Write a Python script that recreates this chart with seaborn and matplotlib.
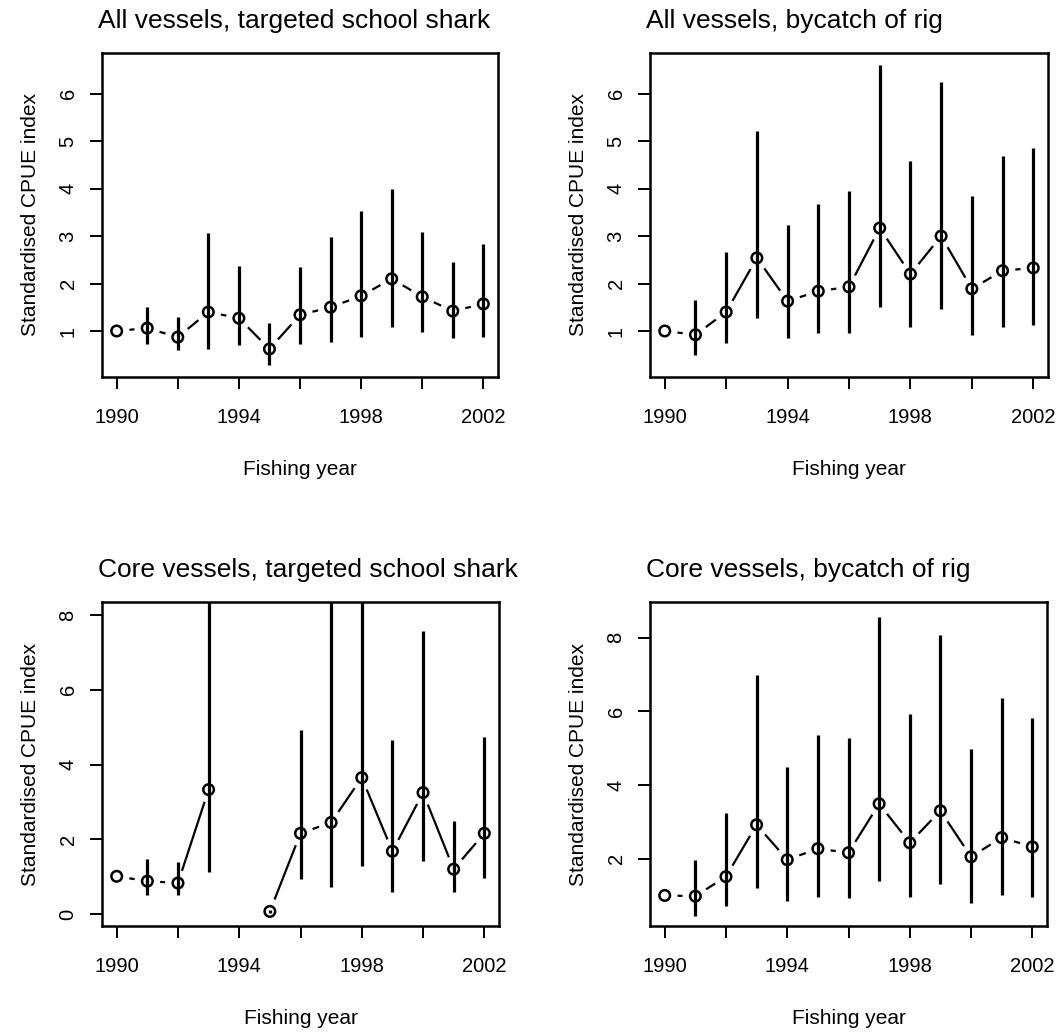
import numpy as np
import pandas as pd
import matplotlib
matplotlib.use("Agg")
import matplotlib.pyplot as plt
import seaborn as sns

nan = np.nan
years = list(range(1990, 2003))

titles = ["All vessels, targeted school shark", "All vessels, bycatch of rig",
          "Core vessels, targeted school shark", "Core vessels, bycatch of rig"]

# Panel 1: all vessels, targeted school shark
p1_idx = [1.00, 1.06, 0.87, 1.40, 1.27, 0.62, 1.34, 1.50, 1.74, 2.10, 1.72, 1.42, 1.57]
p1_lo = [nan, 0.73, 0.60, 0.62, 0.70, 0.28, 0.73, 0.77, 0.87, 1.08, 0.98, 0.85, 0.87]
p1_hi = [nan, 1.50, 1.30, 3.06, 2.37, 1.17, 2.35, 2.98, 3.53, 4.00, 3.09, 2.45, 2.83]

# Panel 2: all vessels, bycatch of rig
p2_idx = [1.00, 0.92, 1.40, 2.54, 1.63, 1.84, 1.93, 3.17, 2.20, 3.00, 1.89, 2.27, 2.33]
p2_lo = [nan, 0.50, 0.75, 1.27, 0.85, 0.96, 0.96, 1.50, 1.08, 1.46, 0.92, 1.08, 1.13]
p2_hi = [nan, 1.65, 2.67, 5.22, 3.24, 3.68, 3.95, 6.61, 4.59, 6.25, 3.85, 4.69, 4.86]

# Panel 3: core vessels, targeted school shark (1994 missing)
p3_idx = [1.01, 0.88, 0.83, 3.33, nan, 0.07, 2.16, 2.45, 3.65, 1.68, 3.25, 1.20, 2.16]
p3_lo = [nan, 0.50, 0.50, 1.12, nan, 0.03, 0.93, 0.72, 1.28, 0.60, 1.41, 0.58, 0.96]
p3_hi = [nan, 1.47, 1.39, 12.0, nan, 0.12, 4.93, 12.0, 12.0, 4.67, 7.57, 2.48, 4.75]

# Panel 4: core vessels, bycatch of rig
p4_idx = [1.00, 0.98, 1.51, 2.92, 1.97, 2.27, 2.16, 3.49, 2.43, 3.30, 2.05, 2.57, 2.32]
p4_lo = [nan, 0.45, 0.70, 1.20, 0.85, 0.95, 0.92, 1.40, 0.95, 1.32, 0.80, 1.00, 0.95]
p4_hi = [nan, 1.95, 3.24, 7.00, 4.50, 5.35, 5.27, 8.57, 5.92, 8.08, 4.97, 6.35, 5.81]

y_ticks = [[1, 2, 3, 4, 5, 6], [1, 2, 3, 4, 5, 6], [0, 2, 4, 6, 8], [2, 4, 6, 8]]
y_lims = [(0.03, 6.86), (0.03, 6.86), (-0.32, 8.35), (0.17, 8.97)]
x_ticks = [1990, 1992, 1994, 1996, 1998, 2000, 2002]
x_ticklabels = ["1990", "", "1994", "", "1998", "", "2002"]
xlab = "Fishing year"
ylab = "Standardised CPUE index"

sns.set_style("white")
plt.rcParams['font.family'] = ['Liberation Sans', 'DejaVu Sans']

W, H = 1063, 1032
fig = plt.figure(figsize=(W / 100, H / 100), dpi=100)

boxes = [(102, 53, 498, 377), (650, 53, 1048, 377),
         (102, 602, 499, 926), (650, 602, 1047, 926)]

panels = [(p1_idx, p1_lo, p1_hi), (p2_idx, p2_lo, p2_hi),
          (p3_idx, p3_lo, p3_hi), (p4_idx, p4_lo, p4_hi)]

for k, ((idx, lo, hi), (l, t, r, b)) in enumerate(zip(panels, boxes)):
    ax = fig.add_axes([l / W, 1 - b / H, (r - l) / W, (b - t) / H])
    df = pd.DataFrame({"year": years, "idx": idx, "lo": lo, "hi": hi})
    df["seg"] = df["idx"].isna().cumsum()
    dd = df.dropna(subset=["idx"])

    sns.lineplot(data=dd, x="year", y="idx", units="seg", estimator=None,
                 color="black", lw=1.6, ax=ax, zorder=1, legend=False)
    # white gaps around points (type = "b")
    sns.scatterplot(data=dd, x="year", y="idx", s=18.5 ** 2, color="white",
                    edgecolor="none", linewidth=0, ax=ax, zorder=2, legend=False)
    db = df.dropna(subset=["lo", "hi"])
    ax.vlines(db["year"], db["lo"], db["hi"], color="black", lw=2.3, zorder=3)
    sns.scatterplot(data=dd, x="year", y="idx", s=7.6 ** 2, marker="o",
                    ax=ax, zorder=4, legend=False)
    coll = ax.collections[-1]
    coll.set_facecolor("none")
    coll.set_edgecolor("black")
    coll.set_linewidth(1.8)

    ax.set_xlim(1989.52, 2002.48)
    ax.set_ylim(*y_lims[k])
    ax.set_xticks(x_ticks)
    ax.set_xticklabels(x_ticklabels)
    ax.set_yticks(y_ticks[k])
    ax.set_yticklabels([str(v) for v in y_ticks[k]], rotation=90, va="center")
    ax.tick_params(axis="both", which="major", bottom=True, left=True,
                   top=False, right=False, direction="out", length=8.6,
                   width=1.4, color="black", labelsize=14.5, labelcolor="black")
    ax.tick_params(axis="x", pad=14)
    ax.tick_params(axis="y", pad=9)
    for sp in ax.spines.values():
        sp.set_visible(True)
        sp.set_color("black")
        sp.set_linewidth(1.8)
    ax.grid(False)

    ax.set_xlabel(xlab, fontsize=15, color="black")
    ax.xaxis.set_label_coords(0.5, -0.287)
    ax.xaxis.label.set_va("center")
    ax.set_ylabel(ylab, fontsize=15, color="black")
    ax.yaxis.set_label_coords(-0.18, 0.5)
    ax.yaxis.label.set_va("center")

    ax.text(-0.01, 1 + 32 / 324, titles[k], transform=ax.transAxes,
            ha="left", va="center", fontsize=19, color="black")

fig.savefig("out.png", dpi=100, facecolor="white")
